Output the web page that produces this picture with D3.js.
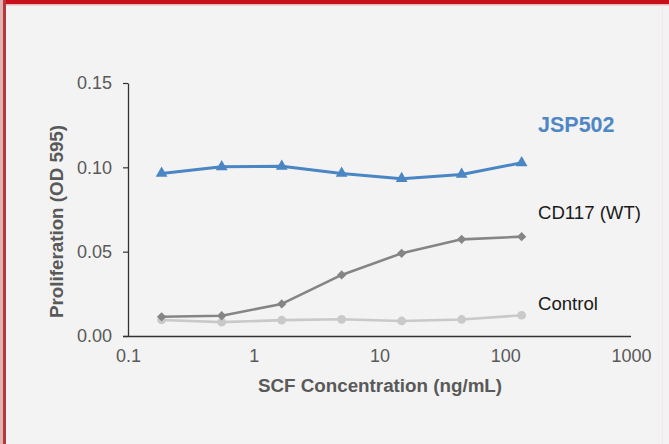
<!DOCTYPE html>
<html><head><meta charset="utf-8">
<script src="https://cdn.jsdelivr.net/npm/d3@7"></script>
<style>
html,body{margin:0;padding:0;background:#f3f3f3;}
svg{display:block;font-family:"Liberation Sans",Arial,sans-serif;}
</style></head>
<body>
<svg id="chart" width="669" height="444"></svg>
<script>
const concentrations = [0.185, 0.556, 1.67, 5, 15, 45, 135];
const jsp502 = [0.0964, 0.1003, 0.1006, 0.0964, 0.0933, 0.0958, 0.1027];
const cd117 = [0.0114, 0.0120, 0.0190, 0.0362, 0.0490, 0.0573, 0.0589];
const control = [0.0095, 0.0082, 0.0094, 0.0099, 0.0089, 0.0098, 0.0123];
const xTicks = [0.1, 1, 10, 100, 1000];
const yTicks = [0, 0.05, 0.10, 0.15];
const seriesNames = ["JSP502", "CD117 (WT)", "Control"];

const svg = d3.select("#chart");
const FONT = "'Liberation Sans',Arial,sans-serif";
// background and frame
svg.append("rect").attr("x",0).attr("y",0).attr("width",669).attr("height",444).attr("fill","#f3f3f3");
svg.append("rect").attr("x",0).attr("y",0).attr("width",669).attr("height",4).attr("fill","#c8101a");
svg.append("rect").attr("x",0).attr("y",4).attr("width",669).attr("height",1.5).attr("fill","#e9b7b7");
svg.append("rect").attr("x",0).attr("y",0).attr("width",3).attr("height",444).attr("fill","#e3b3b3");
svg.append("rect").attr("x",3).attr("y",0).attr("width",3).attr("height",444).attr("fill","#b23a3f");
svg.append("rect").attr("x",662).attr("y",5).attr("width",1).attr("height",439).attr("fill","#f6e6e6");

const x = d3.scaleLog().domain([0.1, 1000]).range([128, 631]);
const y = d3.scaleLinear().domain([0, 0.15]).range([336, 83]);

const labelColor = "#595959";

// y axis
const yAxis = svg.append("g").attr("transform","translate(128,0)")
  .call(d3.axisLeft(y).tickValues(yTicks).tickFormat(d3.format(".2f")).tickSize(5).tickSizeOuter(0));
yAxis.select(".domain").attr("stroke","#333").attr("stroke-width",1.3);
yAxis.selectAll(".tick line").attr("stroke","#333").attr("stroke-width",1.2);
yAxis.selectAll(".tick text").attr("fill",labelColor).attr("font-size",18).attr("x",-16)
  .attr("font-family",FONT);

// x axis
const xAxis = svg.append("g").attr("transform","translate(0,336)")
  .call(d3.axisBottom(x).tickValues(xTicks).tickFormat(d => String(d)).tickSize(0).tickSizeOuter(0));
xAxis.select(".domain").attr("stroke","#333").attr("stroke-width",1.3).attr("d","M123,0.5H631");
xAxis.selectAll(".tick text").attr("fill",labelColor).attr("font-size",18).attr("y",13)
  .attr("font-family",FONT);

// axis titles
svg.append("text").attr("x",380).attr("y",392).attr("text-anchor","middle")
  .attr("font-size",18.8).attr("font-weight","bold").attr("fill",labelColor)
  .text("SCF Concentration (ng/mL)");
svg.append("text").attr("transform","translate(63,221.5) rotate(-90)").attr("text-anchor","middle")
  .attr("font-size",18.8).attr("font-weight","bold").attr("fill",labelColor)
  .text("Proliferation (OD 595)");

const line = d3.line().x(d => x(d[0])).y(d => y(d[1]));

function drawSeries(vals, color, width, symbol, size) {
  const pts = concentrations.map((c,i) => [c, vals[i]]);
  svg.append("path").datum(pts).attr("d", line).attr("fill","none")
    .attr("stroke", color).attr("stroke-width", width).attr("stroke-linejoin","round");
  svg.selectAll(null).data(pts).enter().append("path")
    .attr("transform", d => `translate(${x(d[0])},${y(d[1])})`)
    .attr("d", d3.symbol().type(symbol).size(size))
    .attr("fill", color);
}

drawSeries(control, "#c9c9c9", 2.6, d3.symbolCircle, 60);
drawSeries(cd117, "#858585", 2.6, d3.symbolDiamond2 || d3.symbolDiamond, 55);
drawSeries(jsp502, "#4a85c4", 3, d3.symbolTriangle, 60);

// series labels
svg.append("text").attr("x",538).attr("y",131.5).attr("font-size",21.5).attr("font-weight","bold")
  .attr("fill","#4f86c4").text(seriesNames[0]);
svg.append("text").attr("x",538).attr("y",219).attr("font-size",18.6).attr("fill","#1a1a1a").text(seriesNames[1]);
svg.append("text").attr("x",538).attr("y",310).attr("font-size",18.6).attr("fill","#1a1a1a").text(seriesNames[2]);
</script>
</body></html>
